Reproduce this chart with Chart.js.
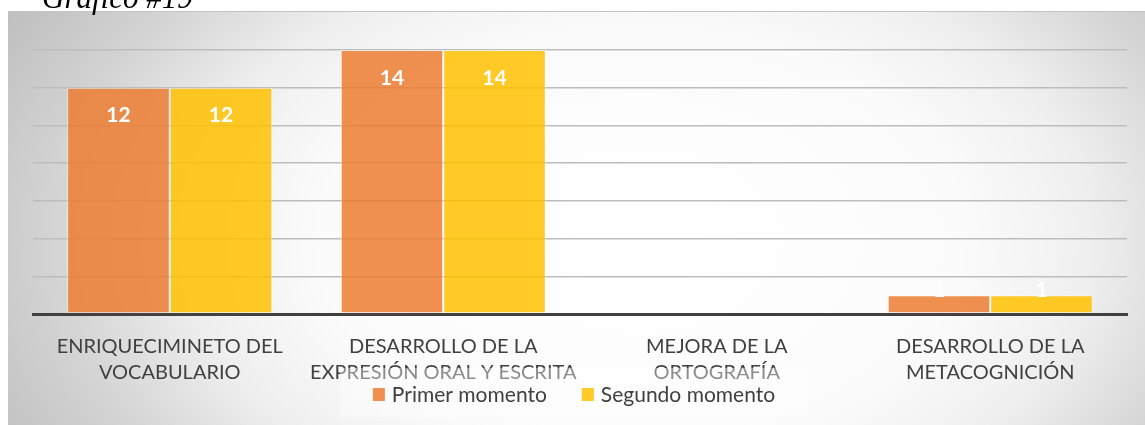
<!DOCTYPE html>
<html>
<head>
<meta charset="utf-8">
<script src="https://cdn.jsdelivr.net/npm/chart.js@4/dist/chart.umd.min.js"></script>
<style>
    body { margin: 0; background: #ffffff; }
    #grafico { display: block; }
</style>
</head>
<body>
<canvas id="grafico" width="1145" height="425"></canvas>
<script>
const categorias = [
    ["ENRIQUECIMINETO DEL", "VOCABULARIO"],
    ["DESARROLLO DE LA", "EXPRESIÓN ORAL Y ESCRITA"],
    ["MEJORA DE LA", "ORTOGRAFÍA"],
    ["DESARROLLO DE LA", "METACOGNICIÓN"]
];
const primerMomento = [12, 14, 0, 1];
const segundoMomento = [12, 14, 0, 1];
const titulo = "Gráfico #19";

// fondo gris con degradado radial, como el de Excel
const fondoPlugin = {
    id: 'fondo',
    beforeDraw(chart) {
        const ctx = chart.ctx;
        const cx = 640, cy = 240, rx = 650, ry = 420;
        ctx.save();
        ctx.translate(cx, cy);
        ctx.scale(1, ry / rx);
        const g = ctx.createRadialGradient(0, 0, 0, 0, 0, rx * 1.1);
        g.addColorStop(0, '#ffffff');
        g.addColorStop(0.45, '#fbfbfb');
        g.addColorStop(0.63, '#efefef');
        g.addColorStop(0.82, '#d4d4d4');
        g.addColorStop(1, '#c0c0c0');
        ctx.fillStyle = g;
        const k = rx / ry;
        ctx.fillRect(8 - cx, (11 - cy) * k, 1145 - 8, (425 - 11) * k);
        ctx.restore();

        ctx.save();
        ctx.fillStyle = '#c4c4c4';
        ctx.fillRect(8, 11, 1137, 1);
        ctx.font = 'italic 31px "Liberation Serif", serif';
        ctx.fillStyle = '#000000';
        ctx.textBaseline = 'alphabetic';
        ctx.fillText(titulo, 42, 8);
        ctx.restore();
    }
};

// etiquetas de datos blancas dentro de la barra
const etiquetasPlugin = {
    id: 'etiquetas',
    afterDatasetsDraw(chart) {
        const ctx = chart.ctx;
        ctx.save();
        ctx.font = 'bold 21px Lato';
        ctx.fillStyle = '#ffffff';
        ctx.textAlign = 'center';
        ctx.textBaseline = 'middle';
        chart.data.datasets.forEach((ds, i) => {
            chart.getDatasetMeta(i).data.forEach((bar, j) => {
                const v = ds.data[j];
                if (!v) return;
                const alto = bar.base - bar.y;
                const y = alto > 40 ? bar.y + 28 : bar.y - 5;
                ctx.fillText(v, bar.x, y);
            });
        });
        ctx.restore();
    }
};

// leyenda encima de las etiquetas del eje, con su fondo semitransparente
const leyendaPlugin = {
    id: 'leyenda',
    afterDraw(chart) {
        const ctx = chart.ctx;
        ctx.save();
        ctx.fillStyle = 'rgba(255,255,255,0.4)';
        ctx.fillRect(340, 368, 468, 49);

        ctx.font = '21px Lato';
        ctx.textBaseline = 'alphabetic';
        const caja = 12, sep = 7, entre = 35;
        const items = chart.data.datasets.map(ds => ({
            texto: ds.label,
            color: ds.backgroundColor,
            ancho: ctx.measureText(ds.label).width
        }));
        let total = 0;
        items.forEach((it, i) => {
            total += caja + sep + it.ancho + (i > 0 ? entre : 0);
        });
        let x = 574 - total / 2;
        items.forEach(it => {
            ctx.fillStyle = it.color;
            ctx.fillRect(x, 388, caja, 13);
            ctx.fillStyle = '#404040';
            ctx.fillText(it.texto, x + caja + sep, 402);
            x += caja + sep + it.ancho + entre;
        });
        ctx.restore();
    }
};

const ctx = document.getElementById('grafico').getContext('2d');

new Chart(ctx, {
    type: 'bar',
    data: {
        labels: categorias,
        datasets: [{
            label: 'Primer momento',
            data: primerMomento,
            backgroundColor: 'rgba(237, 125, 49, 0.85)',
            borderColor: 'rgba(255, 255, 255, 0.45)',
            borderWidth: 1,
            borderSkipped: false
        }, {
            label: 'Segundo momento',
            data: segundoMomento,
            backgroundColor: 'rgba(255, 192, 0, 0.85)',
            borderColor: 'rgba(255, 255, 255, 0.45)',
            borderWidth: 1,
            borderSkipped: false
        }]
    },
    options: {
        responsive: false,
        animation: false,
        categoryPercentage: 0.75,
        barPercentage: 1.0,
        layout: {
            padding: { left: 33, right: 18, top: 50, bottom: 0 }
        },
        plugins: {
            legend: { display: false },
            tooltip: { enabled: false }
        },
        scales: {
            x: {
                grid: { display: false, drawTicks: false },
                border: { display: true, color: '#404040', width: 3 },
                ticks: {
                    color: '#404040',
                    font: { family: 'Lato', size: 20, lineHeight: 1.3 },
                    padding: 20,
                    maxRotation: 0,
                    autoSkip: false
                },
                afterFit(scale) { scale.height = 425 - 314; }
            },
            y: {
                min: 0,
                max: 14,
                ticks: { display: false, stepSize: 2 },
                grid: { color: '#bdbdbd', lineWidth: 1.5, drawTicks: false },
                border: { display: false },
                afterFit(scale) { scale.width = 0; }
            }
        }
    },
    plugins: [fondoPlugin, etiquetasPlugin, leyendaPlugin]
});
</script>
</body>
</html>
